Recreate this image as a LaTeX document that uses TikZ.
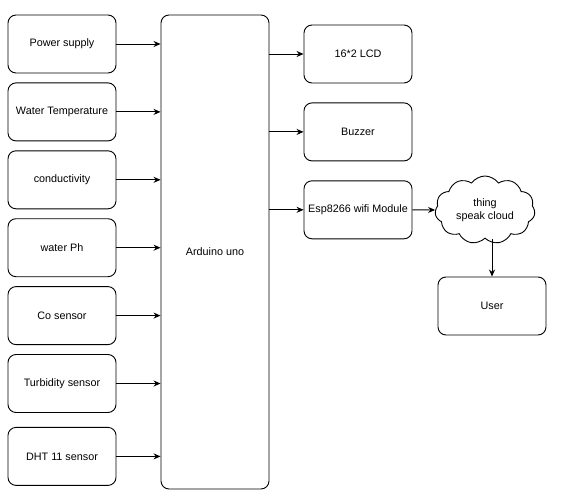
\documentclass[tikz,border=0pt]{standalone}
\usepackage{fontspec}
\setmainfont{Liberation Sans}
\usepackage{tikz}
\usetikzlibrary{arrows.meta,positioning,shapes.symbols}

\begin{document}
\begin{tikzpicture}[
x=1pt, y=-1pt,
node distance=9pt,
blk/.style={draw, line width=0.9pt, rectangle, rounded corners=8pt, minimum width=108pt, minimum height=58pt, inner sep=0pt, align=center, font=\fontsize{10.8}{12.8}\selectfont},
cld/.style={draw, line width=0.9pt, cloud, cloud puffs=11, cloud puff arc=110, aspect=1.5, minimum width=100pt, minimum height=68pt, inner sep=0pt, align=center, font=\fontsize{10.8}{12.8}\selectfont},
arr/.style={-{Stealth[length=7pt,width=6pt]}, line width=0.9pt},
]
\useasboundingbox (0,0) rectangle (568,498);
% inputs
\node[blk] (pw) at (62,44) {Power supply};
\node[blk, below=of pw] (wt) {Water Temperature};
\node[blk, below=of wt] (cond) {conductivity};
\node[blk, below=of cond] (ph) {water Ph};
\node[blk, below=of ph] (co) {Co sensor};
\node[blk, below=of co] (turb) {Turbidity sensor};
\node[blk, below=14pt of turb] (dht) {DHT 11 sensor};
% controller
\node[blk, minimum height=474pt] (ard) at (215,252) {Arduino uno};
% outputs
\node[blk] (lcd) at (358,54) {16*2 LCD};
\node[blk, below=19pt of lcd] (buz) {Buzzer};
\node[blk, below=19pt of buz] (esp) {Esp8266 wifi Module};
\node[cld] (cloud) at (485,210) {thing\\speak cloud};
\node[blk] (user) at (492,306) {User};
\foreach \n in {pw,wt,cond,ph,co,turb,dht}
  \draw[arr] (\n.east) -- (\n.east -| ard.west);
\foreach \n in {lcd,buz,esp}
  \draw[arr] (\n.west -| ard.east) -- (\n.west);
\draw[arr] (esp.east) -- (cloud.west);
\draw[arr] (cloud.south -| user.north) -- (user.north);
\end{tikzpicture}
\end{document}
